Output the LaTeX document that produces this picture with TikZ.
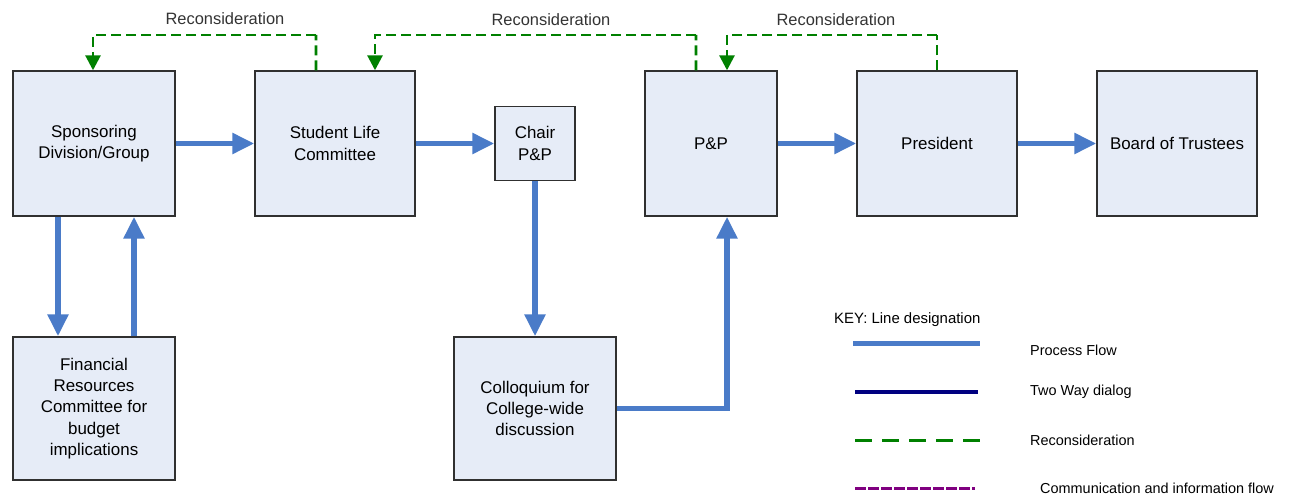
\documentclass[tikz,border=0pt]{standalone}
\usepackage{fontspec}
\setmainfont{Liberation Sans}
\usetikzlibrary{arrows.meta,calc}
\definecolor{flowblue}{HTML}{4A7BC8}
\definecolor{boxfill}{HTML}{E6ECF7}
\definecolor{boxline}{HTML}{303030}
\definecolor{recgreen}{HTML}{008000}
\definecolor{dialognavy}{HTML}{000080}
\definecolor{infopurple}{HTML}{800080}
\tikzset{
  stage/.style={draw=boxline, line width=1.4bp, fill=boxfill, align=center,
    inner sep=2bp, font=\fontsize{17}{21.5}\selectfont},
  flow/.style={draw=flowblue, line width=5.5bp,
    -{Triangle[length=22bp,width=20bp]}},
  recon/.style={draw=recgreen, line width=2.8bp, dash pattern=on 10bp off 5bp},
  recontip/.style={recon, -{Triangle[length=15bp,width=15bp]}},
  reclabel/.style={font=\fontsize{16.5}{18}\selectfont, text=black!80},
  keytext/.style={font=\fontsize{14.5}{17}\selectfont, anchor=west, inner sep=0pt},
}
\begin{document}
\begin{tikzpicture}[x=1bp,y=-1bp]
\useasboundingbox (0,0) rectangle (1300,497);

% process stages
\node[stage, minimum width=162bp, minimum height=145bp] (spons) at (94,143.5) {Sponsoring\\Division/Group};
\node[stage, minimum width=160bp, minimum height=145bp] (slc) at (335,143.5) {Student Life\\Committee};
\node[stage, minimum width=80bp, minimum height=74bp] (chair) at (535,143.5) {Chair\\P\&P};
\node[stage, minimum width=132bp, minimum height=145bp] (pp) at (711,143.5) {P\&P};
\node[stage, minimum width=160bp, minimum height=145bp] (pres) at (937,143.5) {President};
\node[stage, minimum width=160bp, minimum height=145bp] (bot) at (1177,143.5) {Board of Trustees};
\node[stage, minimum width=162bp, minimum height=143bp] (fin) at (94,408.5) {Financial\\Resources\\Committee for\\budget\\implications};
\node[stage, minimum width=162bp, minimum height=143bp] (col) at (535,408.5) {Colloquium for\\College-wide\\discussion};

% process flow
\draw[flow] (spons) -- (slc);
\draw[flow] (slc) -- (chair);
\draw[flow] (pp) -- (pres);
\draw[flow] (pres) -- (bot);
\draw[flow] ([xshift=-36bp]spons.south) -- ([xshift=-36bp]fin.north);
\draw[flow] ([xshift=40bp]fin.north) -- ([xshift=40bp]spons.south);
\draw[flow] (chair.south) -- (col.north);
\draw[flow] (col.east) -| ([xshift=16bp]pp.south);

% reconsideration loops
\coordinate (r1) at (316,35);
\coordinate (r2) at (696,35);
\coordinate (r3) at (937,35);
\draw[recon] ([xshift=-19bp]slc.north) -- (r1);
\draw[recontip] (r1) -| ([xshift=-1bp]spons.north);
\draw[recon] ([xshift=-15bp]pp.north) -- (r2);
\draw[recontip] (r2) -| ([xshift=40bp]slc.north);
\draw[recon] (pres.north) -- (r3);
\draw[recontip] (r3) -| ([xshift=16bp]pp.north);
\node[reclabel] (l1) at (225,19) {Reconsideration};
\node[reclabel] (l2) at (551,20) {Reconsideration};
\node[reclabel] (l3) at (836,20) {Reconsideration};

% key
\node[keytext, font=\fontsize{15}{17}\selectfont] (keyhead) at (834,320) {KEY: Line designation};
\draw[draw=flowblue, line width=5bp] (853,343) -- (980,343);
\draw[draw=dialognavy, line width=4bp] (855,392) -- (978,392);
\draw[draw=recgreen, line width=3bp, dash pattern=on 17bp off 10bp] (855,440) -- (980,440);
\draw[draw=infopurple, line width=3bp, dash pattern=on 11bp off 2bp] (855,488) -- (975,488);
\node[keytext] (k1) at (1030,350) {Process Flow};
\node[keytext] (k2) at (1030,392) {Two Way dialog};
\node[keytext] (k3) at (1030,440) {Reconsideration};
\node[keytext] (k4) at (1040,488) {Communication and information flow};
\end{tikzpicture}
\end{document}
